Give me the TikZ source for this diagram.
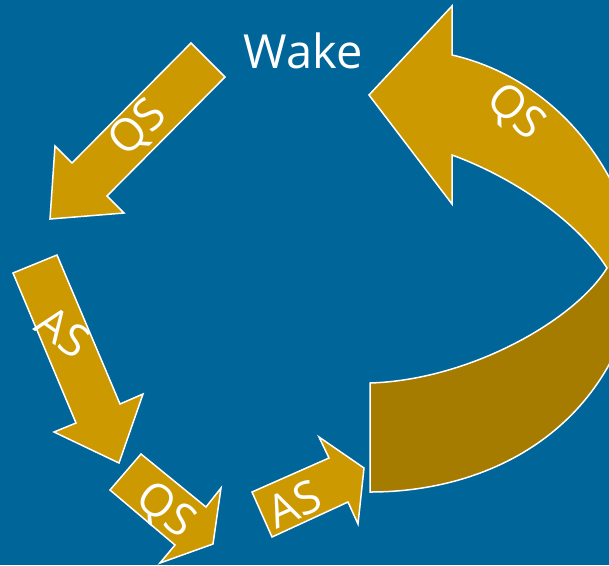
\documentclass[tikz,border=0pt]{standalone}
\usepackage{fontspec}
\setmainfont{Open Sans}
\definecolor{bg}{HTML}{006699}
\definecolor{gold}{HTML}{CC9900}
\definecolor{darkgold}{HTML}{A67C00}
\begin{document}
\begin{tikzpicture}[x=1pt,y=-1pt,
  arrowshape/.style={fill=gold,draw=white,line width=1.5pt,line join=miter},
  lbl/.style={text=white,font=\fontsize{45}{52}\selectfont,inner sep=0pt}]
\fill[bg] (0,0) rectangle (609,565);
\useasboundingbox (0,0) rectangle (609,565);
\begin{scope}
\clip (0,0) rectangle (609,565);
\fill[gold] (452,55) .. controls (540,75) and (620,150) .. (640,268) -- (607,268) .. controls (578,222) and (515,178) .. (452,155) -- (452,204) -- (369,95) -- (452,6) -- cycle;
\fill[darkgold] (607,268) -- (640,268) .. controls (620,420) and (500,492) .. (370,492) -- (370,383) .. controls (470,380) and (575,320) .. (607,268) -- cycle;
\draw[white,line width=1.5pt,line join=miter] (452,55) .. controls (540,75) and (620,150) .. (640,268) .. controls (620,420) and (500,492) .. (370,492) -- (370,383) .. controls (470,380) and (575,320) .. (607,268) .. controls (578,222) and (515,178) .. (452,155) -- (452,204) -- (369,95) -- (452,6) -- cycle;
\end{scope}
\draw[arrowshape] (191,43) -- (225,77) -- (107,196) -- (124,213) -- (50,219) -- (55,146) -- (72,163) -- cycle;
\draw[arrowshape] (13,273) -- (57,255) -- (120,404) -- (143,394) -- (119,463) -- (54,432) -- (76,423) -- cycle;
\draw[arrowshape] (110,490) -- (141,454) -- (206,507) -- (221,488) -- (213,544) -- (160,563) -- (175,545) -- cycle;
\draw[arrowshape] (252,492) -- (329,458) -- (319,437) -- (364,468) -- (358,524) -- (348,502) -- (272,537) -- cycle;
\node[lbl,font=\fontsize{47}{54}\selectfont] (wake) at (303,51) {Wake};
\node[lbl,rotate=45] (qs1) at (139,129) {QS};
\node[lbl,rotate=-35] (as1) at (63,332) {AS};
\node[lbl,rotate=-38] (qs2) at (165,511) {QS};
\node[lbl,rotate=24] (as2) at (294,504) {AS};
\node[lbl,rotate=-42] (qs3) at (515,113) {QS};
\end{tikzpicture}
\end{document}
